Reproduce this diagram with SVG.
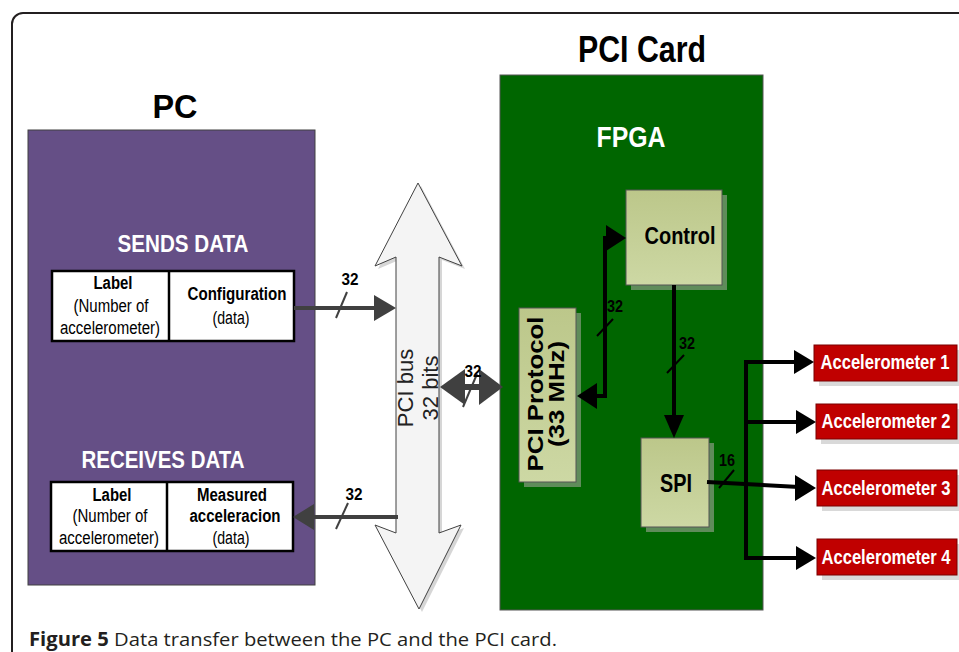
<svg xmlns="http://www.w3.org/2000/svg" width="959" height="652" viewBox="0 0 959 652">
<defs>
<linearGradient id="olive" x1="0" y1="0" x2="0" y2="1">
<stop offset="0" stop-color="#bcc78a"/>
<stop offset="1" stop-color="#cdd8a4"/>
</linearGradient>
<style>
.t{font-family:"Liberation Sans",Arial,sans-serif;}
.b{font-weight:bold;}
.c{text-anchor:middle;}
.w{fill:#ffffff;}
.k{fill:#000000;}
.cell{fill:#ffffff;stroke:#000000;stroke-width:2.5;}
.olive{fill:url(#olive);stroke:#555555;stroke-width:1;}
.oshadow{fill:#5f8c5a;}
.red{fill:#c00000;stroke:#7a0000;stroke-width:1;}
.rshadow{fill:#d9d9d9;}
.gl{stroke:#404040;stroke-width:4;fill:none;}
.gh{fill:#404040;}
.bl{stroke:#000000;stroke-width:4;fill:none;}
.bh{fill:#000000;}
.sl{stroke:#000000;stroke-width:2;}
.sg{stroke:#404040;stroke-width:2;}
</style>
</defs>
<rect x="0" y="0" width="959" height="652" fill="#ffffff"/>
<rect x="12" y="13" width="980" height="680" rx="11" fill="none" stroke="#231f20" stroke-width="2"/>

<g id="pc">
<text class="t b c" x="175" y="118" font-size="34" textLength="45" lengthAdjust="spacingAndGlyphs" fill="#000">PC</text>
<rect x="28" y="130" width="287" height="455" fill="#654f86" stroke="#404040" stroke-width="1"/>
<text class="t b c w" x="183" y="252" font-size="23" textLength="131" lengthAdjust="spacingAndGlyphs">SENDS DATA</text>
<text class="t b c w" x="163" y="468" font-size="23" textLength="163" lengthAdjust="spacingAndGlyphs">RECEIVES DATA</text>
</g>

<g id="sends-table">
<rect class="cell" x="52" y="271" width="242" height="70"/>
<line x1="169" y1="271" x2="169" y2="341" stroke="#000" stroke-width="2.5"/>
<text class="t b c k" x="113" y="289" font-size="18" textLength="39" lengthAdjust="spacingAndGlyphs">Label</text>
<text class="t c k" x="111" y="312" font-size="18" textLength="75" lengthAdjust="spacingAndGlyphs">(Number of</text>
<text class="t c k" x="110" y="334" font-size="18" textLength="100" lengthAdjust="spacingAndGlyphs">accelerometer)</text>
<text class="t b c k" x="237" y="300" font-size="18" textLength="99" lengthAdjust="spacingAndGlyphs">Configuration</text>
<text class="t c k" x="231" y="324" font-size="18" textLength="37" lengthAdjust="spacingAndGlyphs">(data)</text>
</g>

<g id="receives-table">
<rect class="cell" x="51" y="482" width="242" height="69"/>
<line x1="167" y1="482" x2="167" y2="551" stroke="#000" stroke-width="2.5"/>
<text class="t b c k" x="112" y="501" font-size="18" textLength="39" lengthAdjust="spacingAndGlyphs">Label</text>
<text class="t c k" x="110" y="522" font-size="18" textLength="75" lengthAdjust="spacingAndGlyphs">(Number of</text>
<text class="t c k" x="109" y="544" font-size="18" textLength="100" lengthAdjust="spacingAndGlyphs">accelerometer)</text>
<text class="t b c k" x="232" y="501" font-size="18" textLength="70" lengthAdjust="spacingAndGlyphs">Measured</text>
<text class="t b c k" x="235" y="522" font-size="18" textLength="91" lengthAdjust="spacingAndGlyphs">acceleracion</text>
<text class="t c k" x="231" y="544" font-size="18" textLength="37" lengthAdjust="spacingAndGlyphs">(data)</text>
</g>

<g id="pci-bus">
<path d="M421,186 L465,269 L442,260 L442,536 L464,528 L422,612 L378,528 L399,536 L399,260 L378,269 Z" fill="#d6d6d6"/>
<path d="M418,183 L462,266 L439,257 L439,533 L461,525 L419,609 L375,525 L396,533 L396,257 L375,266 Z" fill="#f4f4f4" stroke="#404040" stroke-width="1"/>
<g transform="translate(413,388) rotate(-90)">
<text class="t c" x="0" y="0" font-size="22" fill="#222">PCI bus</text>
<text class="t c" x="0" y="25" font-size="22" fill="#222">32 bits</text>
</g>
</g>

<g id="pci-card">
<text class="t b c" x="642" y="62" font-size="37" textLength="128" lengthAdjust="spacingAndGlyphs" fill="#000">PCI Card</text>
<rect x="500" y="75" width="263" height="535" fill="#006600" stroke="#555555" stroke-width="1"/>
<text class="t b c w" x="631" y="147" font-size="29" textLength="69" lengthAdjust="spacingAndGlyphs">FPGA</text>
</g>

<g id="control">
<rect class="oshadow" x="631" y="195" width="96" height="95"/>
<rect class="olive" x="626" y="190" width="96" height="95"/>
<text class="t b c k" x="680" y="244" font-size="24" textLength="71" lengthAdjust="spacingAndGlyphs">Control</text>
</g>

<g id="pci-protocol">
<rect class="oshadow" x="524" y="313" width="57" height="174"/>
<rect class="olive" x="519" y="308" width="57" height="174"/>
<g transform="translate(543,394) rotate(-90)">
<text class="t b c k" x="0" y="0" font-size="22" textLength="155" lengthAdjust="spacingAndGlyphs">PCI Protocol</text>
<text class="t b c k" x="0" y="21" font-size="22" textLength="106" lengthAdjust="spacingAndGlyphs">(33 MHz)</text>
</g>
</g>

<g id="spi">
<rect class="oshadow" x="646" y="443" width="68" height="89"/>
<rect class="olive" x="641" y="438" width="68" height="89"/>
<text class="t b c k" x="676" y="492" font-size="25" textLength="32" lengthAdjust="spacingAndGlyphs">SPI</text>
</g>

<g id="accelerometer-1">
<rect class="rshadow" x="819" y="350" width="140" height="36"/>
<rect class="red" x="814" y="345" width="143" height="36"/>
<text class="t b c w" font-size="20" transform="translate(885,369) scale(0.83,1)">Accelerometer 1</text>
</g>
<g id="accelerometer-2">
<rect class="rshadow" x="821" y="409" width="138" height="35"/>
<rect class="red" x="816" y="404" width="141" height="35"/>
<text class="t b c w" font-size="20" transform="translate(886,428) scale(0.83,1)">Accelerometer 2</text>
</g>
<g id="accelerometer-3">
<rect class="rshadow" x="822" y="475" width="137" height="36"/>
<rect class="red" x="817" y="470" width="140" height="36"/>
<text class="t b c w" font-size="20" transform="translate(886,495) scale(0.83,1)">Accelerometer 3</text>
</g>
<g id="accelerometer-4">
<rect class="rshadow" x="822" y="544" width="137" height="36"/>
<rect class="red" x="817" y="539" width="140" height="36"/>
<text class="t b c w" font-size="20" transform="translate(886,564) scale(0.83,1)">Accelerometer 4</text>
</g>

<g id="connectors">
<line class="gl" x1="294" y1="308" x2="378" y2="308"/>
<polygon class="gh" points="396,308 374,295 374,321"/>
<line class="sg" x1="336" y1="318" x2="347" y2="292"/>
<text class="t b c k" x="350" y="285" font-size="17" textLength="17" lengthAdjust="spacingAndGlyphs">32</text>
<line class="gl" x1="398" y1="517" x2="310" y2="517"/>
<polygon class="gh" points="293,517 314,504 314,530"/>
<line class="sg" x1="336" y1="529" x2="348" y2="503"/>
<text class="t b c k" x="354" y="500" font-size="17" textLength="17" lengthAdjust="spacingAndGlyphs">32</text>
<line x1="458" y1="387" x2="486" y2="387" stroke="#404040" stroke-width="6"/>
<polygon class="gh" points="440,387 465,369 465,405"/>
<polygon class="gh" points="503,387 479,369 479,405"/>
<line class="sg" x1="463" y1="407" x2="477" y2="374"/>
<text class="t b c k" x="473" y="377" font-size="17" textLength="17" lengthAdjust="spacingAndGlyphs">32</text>
<polyline class="bl" points="596,396 605,396 605,238 609,238"/>
<polygon class="bh" points="626,238 606,225 606,251"/>
<polygon class="bh" points="577,396 597,383 597,409"/>
<line class="sl" x1="597" y1="336" x2="613" y2="319"/>
<text class="t b k" x="607" y="312" font-size="16" textLength="16" lengthAdjust="spacingAndGlyphs">32</text>
<line class="bl" x1="674" y1="285" x2="674" y2="420"/>
<polygon class="bh" points="674,438 664,415 684,415"/>
<line class="sl" x1="667" y1="373" x2="684" y2="355"/>
<text class="t b k" x="679" y="349" font-size="16" textLength="16" lengthAdjust="spacingAndGlyphs">32</text>
<polyline class="bl" points="707,482 799,487"/>
<polygon class="bh" points="816,488 795,475 795,501"/>
<line class="sl" x1="719" y1="488" x2="734" y2="470"/>
<text class="t b k" x="719" y="466" font-size="16" textLength="16" lengthAdjust="spacingAndGlyphs">16</text>
<polyline class="bl" points="798,362 746,362 746,558 798,558"/>
<line class="bl" x1="746" y1="422" x2="800" y2="422"/>
<polygon class="bh" points="814,362 794,350 794,374"/>
<polygon class="bh" points="816,422 796,410 796,434"/>
<polygon class="bh" points="816,558 796,546 796,570"/>
</g>

<text x="29" y="646" font-family="'Open Sans','Noto Sans',sans-serif" font-size="19" fill="#231f20" textLength="528" lengthAdjust="spacingAndGlyphs"><tspan font-weight="bold">Figure 5</tspan> Data transfer between the PC and the PCI card.</text>
</svg>
